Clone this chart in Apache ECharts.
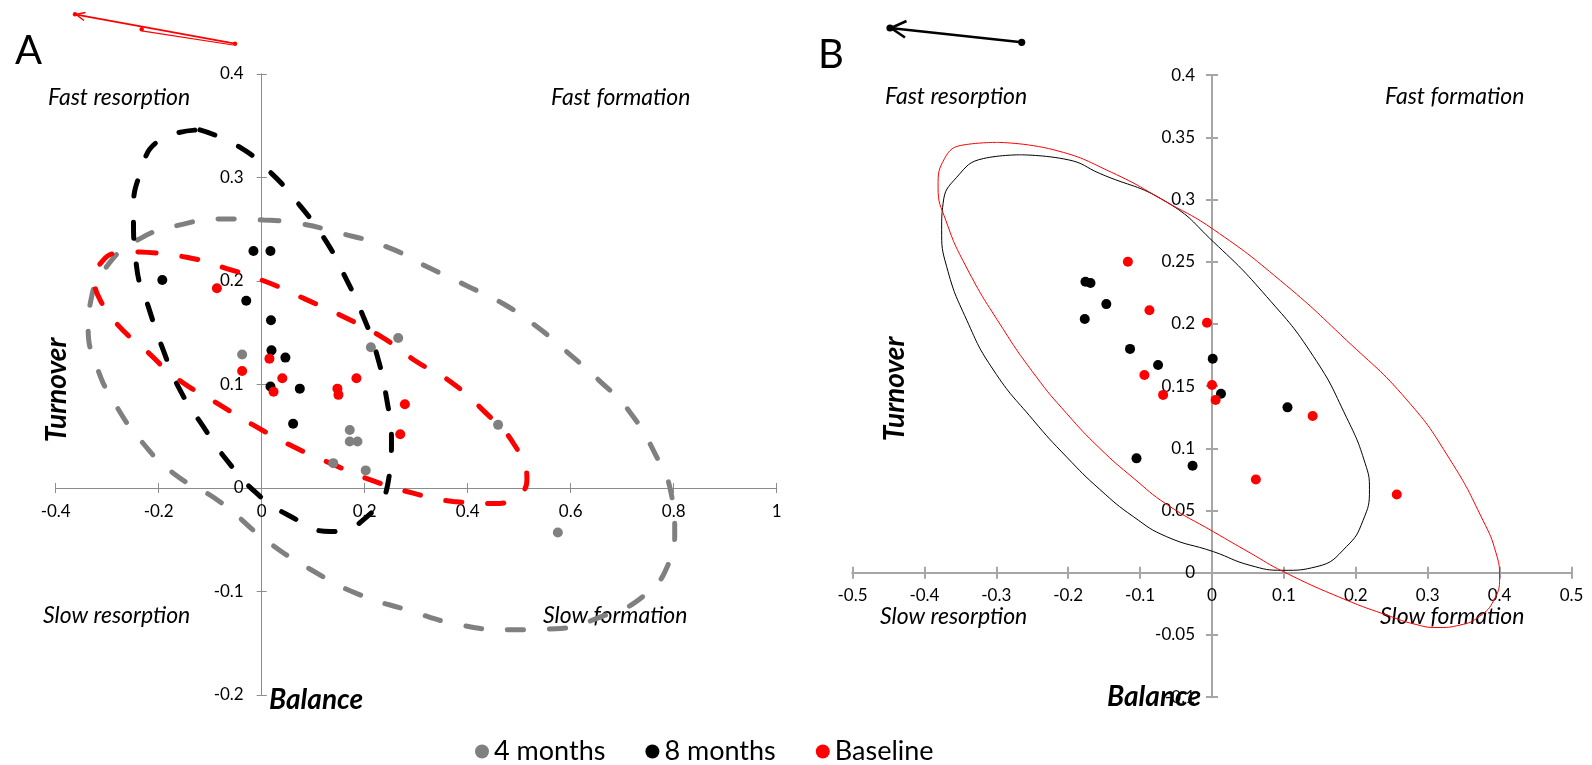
<!DOCTYPE html>
<html>
<head>
<meta charset="utf-8">
<script src="https://cdn.jsdelivr.net/npm/echarts@6/dist/echarts.min.js"></script>
<style>html,body{margin:0;padding:0;background:#fff}#c{width:1592px;height:765px}</style>
</head>
<body>
<div id="c"></div>
<script>
// ---------- Data ----------
const seriesNames = ['4 months', '8 months', 'Baseline'];
const colors = ['#808080', '#000000', '#ff0000'];

// Panel A points [balance, turnover]
const aGray = [[-0.038,0.129],[0.212,0.136],[0.265,0.145],[0.171,0.056],[0.171,0.045],[0.186,0.045],[0.139,0.024],[0.202,0.017],[0.459,0.061],[0.575,-0.043]];
const aBlack = [[-0.016,0.229],[0.017,0.229],[-0.193,0.201],[-0.030,0.181],[0.018,0.162],[0.019,0.133],[0.046,0.126],[0.017,0.098],[0.074,0.096],[0.061,0.062]];
const aRed = [[-0.087,0.193],[0.015,0.125],[-0.038,0.113],[0.040,0.106],[0.023,0.093],[0.147,0.096],[0.149,0.090],[0.184,0.106],[0.278,0.081],[0.269,0.052]];

// Panel B points
const bBlack = [[-0.176,0.234],[-0.169,0.233],[-0.147,0.216],[-0.177,0.204],[-0.114,0.180],[-0.075,0.167],[0.001,0.172],[0.0125,0.144],[0.105,0.133],[-0.105,0.092],[-0.027,0.086]];
const bRed = [[-0.117,0.250],[-0.087,0.211],[-0.007,0.201],[-0.094,0.159],[-0.068,0.143],[0.000,0.151],[0.005,0.139],[0.140,0.126],[0.061,0.075],[0.257,0.063]];

// Panel A ellipse outlines (traced points)
const aGrayEll = [[0.003,0.259],[0.068,0.256],[0.146,0.247],[0.243,0.233],[0.320,0.214],[0.400,0.195],[0.469,0.178],[0.534,0.156],[0.589,0.133],[0.655,0.104],[0.714,0.074],[0.770,0.027],[0.795,-0.005],[0.802,-0.041],[0.790,-0.073],[0.740,-0.105],[0.661,-0.124],[0.571,-0.136],[0.482,-0.137],[0.383,-0.132],[0.284,-0.118],[0.185,-0.102],[0.096,-0.079],[0.007,-0.050],[-0.082,-0.013],[-0.171,0.014],[-0.230,0.043],[-0.282,0.079],[-0.320,0.117],[-0.337,0.156],[-0.333,0.178],[-0.301,0.214],[-0.236,0.241],[-0.152,0.255],[-0.075,0.260],[0.003,0.259]];
const aBlackEll = [[-0.120,0.346],[-0.045,0.330],[0.019,0.304],[0.074,0.273],[0.123,0.240],[0.162,0.204],[0.197,0.166],[0.223,0.130],[0.243,0.085],[0.252,0.046],[0.246,0.007],[0.204,-0.028],[0.133,-0.042],[0.051,-0.026],[-0.010,-0.005],[-0.068,0.027],[-0.113,0.059],[-0.159,0.095],[-0.191,0.133],[-0.220,0.175],[-0.243,0.214],[-0.249,0.265],[-0.236,0.304],[-0.198,0.336],[-0.120,0.346]];
const aRedEll = [[-0.236,0.228],[-0.146,0.223],[-0.068,0.212],[0.010,0.199],[0.087,0.182],[0.165,0.164],[0.236,0.145],[0.301,0.122],[0.366,0.103],[0.430,0.075],[0.489,0.043],[0.515,0.008],[0.495,-0.008],[0.450,-0.015],[0.372,-0.013],[0.294,-0.005],[0.210,0.008],[0.133,0.024],[0.061,0.040],[-0.010,0.059],[-0.087,0.082],[-0.165,0.106],[-0.223,0.132],[-0.282,0.159],[-0.314,0.182],[-0.324,0.201],[-0.308,0.220],[-0.279,0.227],[-0.236,0.228]];

// Panel B ellipse outlines (traced points)
const bBlackEll = [[-0.267,0.336],[-0.200,0.332],[-0.156,0.321],[-0.063,0.298],[0.002,0.266],[0.076,0.222],[0.141,0.174],[0.187,0.125],[0.213,0.088],[0.219,0.067],[0.210,0.042],[0.187,0.021],[0.146,0.005],[0.099,0.002],[0.053,0.006],[0.002,0.017],[-0.063,0.029],[-0.109,0.045],[-0.156,0.067],[-0.202,0.093],[-0.249,0.123],[-0.304,0.163],[-0.341,0.203],[-0.369,0.246],[-0.376,0.276],[-0.374,0.297],[-0.355,0.318],[-0.318,0.333],[-0.267,0.336]];
const bRedEll = [[-0.299,0.346],[-0.220,0.340],[-0.140,0.322],[-0.060,0.297],[0.002,0.276],[0.095,0.235],[0.187,0.187],[0.271,0.139],[0.331,0.091],[0.377,0.042],[0.395,0.016],[0.400,-0.004],[0.392,-0.022],[0.372,-0.035],[0.345,-0.042],[0.313,-0.044],[0.280,-0.041],[0.248,-0.035],[0.183,-0.021],[0.099,0.001],[0.053,0.016],[0.002,0.033],[-0.063,0.055],[-0.109,0.076],[-0.156,0.100],[-0.202,0.128],[-0.245,0.158],[-0.295,0.200],[-0.341,0.245],[-0.370,0.283],[-0.381,0.310],[-0.372,0.333],[-0.345,0.344],[-0.299,0.346]];

// Axis ranges / tick steps
const axA = {xMin:-0.4, xMax:1, xStep:0.2, yMin:-0.2, yMax:0.4, yStep:0.1};
const axB = {xMin:-0.5, xMax:0.5, xStep:0.1, yMin:-0.1, yMax:0.4, yStep:0.05};

// Quadrant / axis texts
const quadrantLabels = ['Fast resorption', 'Fast formation', 'Slow resorption', 'Slow formation'];
const panelLetters = ['A', 'B'];
const axisTitles = {x: 'Balance', y: 'Turnover'};

// ---------- Chart ----------
const FONT = 'Lato, "Open Sans", sans-serif';
const chart = echarts.init(document.getElementById('c'));

const grids = [
  {left: 55.7, top: 74, width: 721, height: 621},
  {left: 852.5, top: 75.2, width: 719, height: 622}
];

// axes crossing at 0: place each axis at the other axis' zero via offset
function makeAxes(dim, gi, ax, lineColor, lineWidth, tickLen, margin) {
  const g = grids[gi];
  const min = dim === 'x' ? ax.xMin : ax.yMin;
  const max = dim === 'x' ? ax.xMax : ax.yMax;
  const step = dim === 'x' ? ax.xStep : ax.yStep;
  let offMain, offSecond;
  if (dim === 'x') {
    const f = (0 - ax.yMin) / (ax.yMax - ax.yMin);
    offMain = -f * g.height;
    offSecond = -(1 - f) * g.height;
  } else {
    const f = (0 - ax.xMin) / (ax.xMax - ax.xMin);
    offMain = -f * g.width;
    offSecond = -(1 - f) * g.width;
  }
  const base = {
    type: 'value', gridIndex: gi, min: min, max: max, interval: step,
    splitLine: {show: false},
    axisLine: {show: true, onZero: false, lineStyle: {color: lineColor, width: lineWidth}},
    axisTick: {show: true, length: tickLen, lineStyle: {color: lineColor, width: lineWidth}},
  };
  const main = Object.assign({}, base, {
    position: dim === 'x' ? 'bottom' : 'left', offset: offMain,
    axisLabel: {show: true, margin: margin, fontSize: 17, color: '#000', fontFamily: FONT}
  });
  const second = Object.assign({}, base, {
    position: dim === 'x' ? 'top' : 'right', offset: offSecond,
    axisLabel: {show: false}
  });
  return [main, second];
}

const xAxes = [].concat(
  makeAxes('x', 0, axA, '#8c8c8c', 1, 5, 15),
  makeAxes('x', 1, axB, '#a6a6a6', 2, 6, 14)
);
const yAxes = [].concat(
  makeAxes('y', 0, axA, '#8c8c8c', 1, 5, 18),
  makeAxes('y', 1, axB, '#a6a6a6', 2, 6, 17)
);

function scatter(name, data, color, xi, yi) {
  return {name: name, type: 'scatter', xAxisIndex: xi, yAxisIndex: yi, data: data,
    symbol: 'circle', symbolSize: 10, itemStyle: {color: color, opacity: 1}, z: 5, silent: true};
}
function ellipse(id, data, color, width, dashed, xi, yi) {
  return {id: id, name: id, type: 'line', xAxisIndex: xi, yAxisIndex: yi, data: data,
    showSymbol: false, symbol: 'none', smooth: 0.5,
    lineStyle: {color: color, width: width, type: dashed ? [16, 26] : 'solid', cap: dashed ? 'round' : 'butt'},
    z: 3, silent: true};
}

const series = [
  ellipse('ellAGray', aGrayEll, colors[0], 5, true, 0, 0),
  ellipse('ellABlack', aBlackEll, colors[1], 5, true, 0, 0),
  ellipse('ellARed', aRedEll, colors[2], 5, true, 0, 0),
  scatter(seriesNames[0], aGray, colors[0], 0, 0),
  scatter(seriesNames[1], aBlack, colors[1], 0, 0),
  scatter(seriesNames[2], aRed, colors[2], 0, 0),
  ellipse('ellBBlack', bBlackEll, colors[1], 1, false, 2, 2),
  ellipse('ellBRed', bRedEll, colors[2], 1, false, 2, 2),
  scatter(seriesNames[1], bBlack, colors[1], 2, 2),
  scatter(seriesNames[2], bRed, colors[2], 2, 2)
];

function text(str, x, y, font, align, opts) {
  return Object.assign({type: 'text', x: x, y: y, silent: true,
    style: {text: str, font: font, fill: '#000', textAlign: align || 'left', textVerticalAlign: 'middle'}}, opts || {});
}
const qFont = 'italic 23px ' + FONT;
const tFont = 'italic bold 28px ' + FONT;
const graphics = [
  text(panelLetters[0], 15, 51, '40px ' + FONT),
  text(panelLetters[1], 818, 55, '40px ' + FONT),
  text(quadrantLabels[0], 48, 98, qFont),
  text(quadrantLabels[1], 551, 98, qFont),
  text(quadrantLabels[2], 43, 616, qFont),
  text(quadrantLabels[3], 543, 616, qFont),
  text(quadrantLabels[0], 885, 97, qFont),
  text(quadrantLabels[1], 1385, 97, qFont),
  text(quadrantLabels[2], 880, 617, qFont),
  text(quadrantLabels[3], 1380, 617, qFont),
  text(axisTitles.x, 269, 700, tFont),
  text(axisTitles.x, 1107, 697, tFont),
  text(axisTitles.y, 57, 390, tFont, 'center', {rotation: Math.PI / 2}),
  text(axisTitles.y, 895, 389, tFont, 'center', {rotation: Math.PI / 2}),
  // Panel A trajectory arrow (red)
  {type: 'polyline', silent: true, shape: {points: [[235, 43.7], [75, 14.3]]}, style: {stroke: '#ff0000', lineWidth: 1.8, fill: null}},
  {type: 'polyline', silent: true, shape: {points: [[141.7, 30.8], [233, 45]]}, style: {stroke: '#ff0000', lineWidth: 1.2, fill: null}},
  {type: 'polyline', silent: true, shape: {points: [[84, 20.5], [76, 14.5], [85.5, 12.5]]}, style: {stroke: '#ff0000', lineWidth: 1.5, fill: null}},
  {type: 'circle', silent: true, shape: {cx: 235, cy: 43.7, r: 2.2}, style: {fill: '#ff0000'}},
  {type: 'circle', silent: true, shape: {cx: 141.7, cy: 29.3, r: 2.2}, style: {fill: '#ff0000'}},
  {type: 'circle', silent: true, shape: {cx: 75, cy: 14.3, r: 2.2}, style: {fill: '#ff0000'}},
  // Panel B trajectory arrow (black)
  {type: 'polyline', silent: true, shape: {points: [[1021.7, 42.3], [890, 28]]}, style: {stroke: '#000', lineWidth: 2.6, fill: null}},
  {type: 'polyline', silent: true, shape: {points: [[906.5, 21], [891, 28], [905, 37.5]]}, style: {stroke: '#000', lineWidth: 2.6, fill: null}},
  {type: 'circle', silent: true, shape: {cx: 1021.7, cy: 42.3, r: 3.6}, style: {fill: '#000'}},
  {type: 'circle', silent: true, shape: {cx: 890, cy: 28, r: 3.6}, style: {fill: '#000'}}
];

chart.setOption({
  animation: false,
  backgroundColor: '#fff',
  textStyle: {fontFamily: FONT},
  grid: grids.map(g => Object.assign({containLabel: false, outerBoundsMode: 'none'}, g)),
  xAxis: xAxes,
  yAxis: yAxes,
  legend: {
    data: seriesNames.map((n, i) => ({name: n, icon: 'circle', itemStyle: {color: colors[i]}})),
    left: 470, top: 733, itemWidth: 14, itemHeight: 14, itemGap: 40,
    textStyle: {fontSize: 27, color: '#000', fontFamily: FONT},
    selectedMode: false
  },
  series: series,
  graphic: graphics
});
</script>
</body>
</html>
